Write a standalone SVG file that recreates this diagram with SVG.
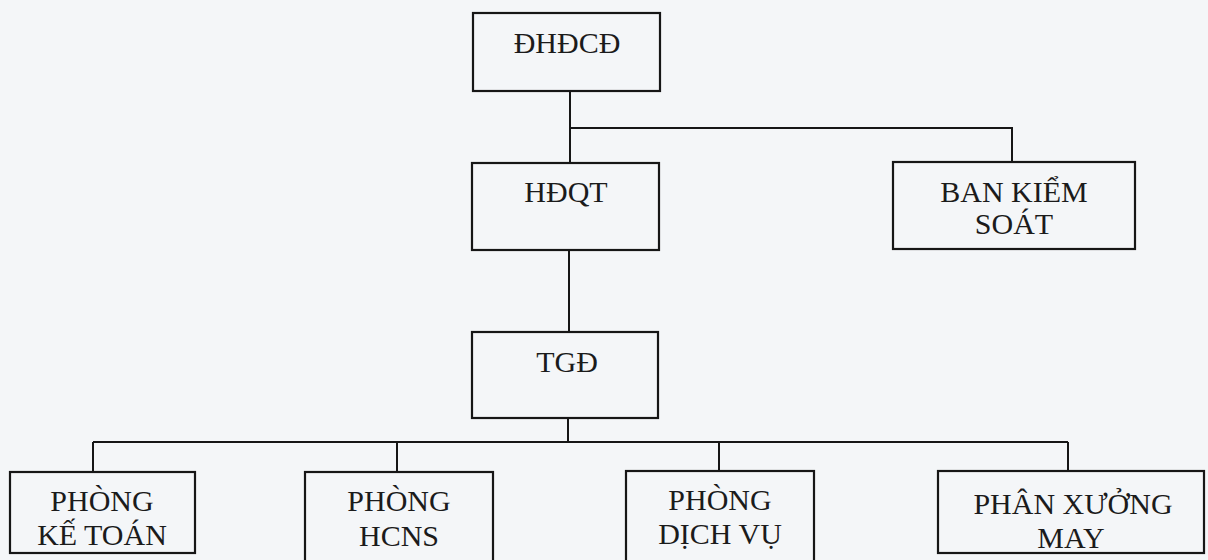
<svg xmlns="http://www.w3.org/2000/svg" width="1208" height="560" viewBox="0 0 1208 560">
<style>
.box{fill:none;stroke:#161616;stroke-width:2.2}
.ln{fill:none;stroke:#161616;stroke-width:2}
.t{font-family:"Liberation Serif","Times New Roman",serif;font-size:30px;fill:#1b1b1b;text-anchor:middle}
</style>
<rect width="1208" height="560" fill="#f4f6f8"/>
<g id="connectors">
<path class="ln" d="M570 91V163M570 128H1012V162"/>
<path class="ln" d="M569 250V332"/>
<path class="ln" d="M568 418V442M93 442H1068M93 442V472M397 442V472M719 442V472M1068 442V471"/>
</g>
<g id="dhdcd"><rect class="box" x="473" y="13" width="187" height="78"/><text class="t" x="567" y="53">ĐHĐCĐ</text></g>
<g id="hdqt"><rect class="box" x="472" y="163" width="187" height="87"/><text class="t" x="566" y="202">HĐQT</text></g>
<g id="bks"><rect class="box" x="893" y="162" width="242" height="87"/><text class="t" x="1014" y="202">BAN KIỂM</text><text class="t" x="1014" y="234">SOÁT</text></g>
<g id="tgd"><rect class="box" x="472" y="332" width="186" height="86"/><text class="t" x="567" y="372">TGĐ</text></g>
<g id="ketoan"><rect class="box" x="10" y="472" width="185" height="81"/><text class="t" x="102" y="511">PHÒNG</text><text class="t" x="102" y="545">KẾ TOÁN</text></g>
<g id="hcns"><rect class="box" x="305" y="472" width="188" height="95"/><text class="t" x="399" y="511">PHÒNG</text><text class="t" x="399" y="546">HCNS</text></g>
<g id="dichvu"><rect class="box" x="626" y="471" width="188" height="96"/><text class="t" x="720" y="510">PHÒNG</text><text class="t" x="720" y="544">DỊCH VỤ</text></g>
<g id="phanxuong"><rect class="box" x="938" y="471" width="266" height="82"/><text class="t" x="1073" y="514">PHÂN XƯỞNG</text><text class="t" x="1071" y="548">MAY</text></g>
</svg>
